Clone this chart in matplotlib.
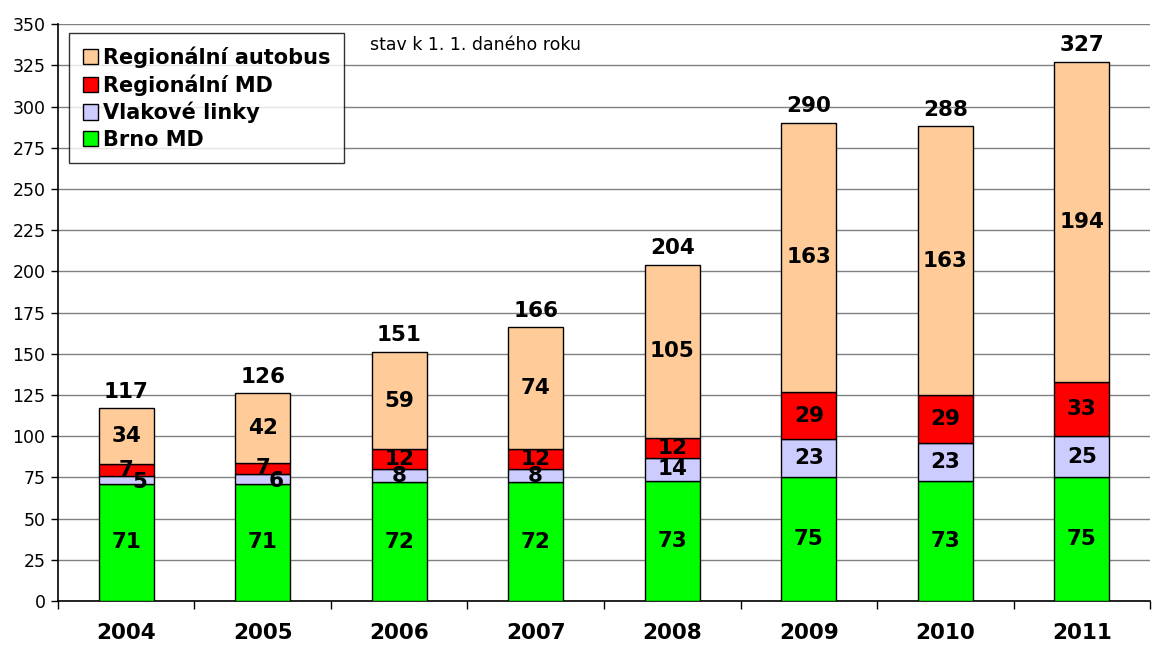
import matplotlib
matplotlib.use("Agg")
import matplotlib.pyplot as plt
import numpy as np

years = ["2004", "2005", "2006", "2007", "2008", "2009", "2010", "2011"]
brno_md = [71, 71, 72, 72, 73, 75, 73, 75]
vlakove = [5, 6, 8, 8, 14, 23, 23, 25]
regional_md = [7, 7, 12, 12, 12, 29, 29, 33]
regional_bus = [34, 42, 59, 74, 105, 163, 163, 194]
series_names = ["Brno MD", "Vlakové linky", "Regionální MD", "Regionální autobus"]
series_colors = ["#00FF00", "#CCCCFF", "#FF0000", "#FFCC99"]

plt.rcParams['font.family'] = ['DejaVu Sans']

fig = plt.figure(figsize=(11.52, 6.46), dpi=100)
ax = fig.add_axes([0.0503, 0.0697, 0.948, 0.893])

x = np.arange(len(years))
series = [brno_md, vlakove, regional_md, regional_bus]
bottom = np.zeros(len(years))
handles = []
for vals, name, col in zip(series, series_names, series_colors):
    vals = np.array(vals)
    b = ax.bar(x, vals, width=0.4, bottom=bottom, color=col, edgecolor="black",
               linewidth=1.0, label=name, zorder=3)
    handles.append(b)
    for xi, v, bt in zip(x, vals, bottom):
        dx = 0
        dy = 0
        if name == "Vlakové linky" and v < 7:
            dx, dy = 0.1, -1.5
        ax.text(xi + dx, bt + v / 2 + dy, str(v), ha="center", va="center",
                fontsize=15.5, fontweight="bold", color="black", zorder=5)
    bottom = bottom + vals

for xi, t in zip(x, bottom):
    ax.text(xi, t + 4, str(int(t)), ha="center", va="bottom",
            fontsize=15.5, fontweight="bold", color="black", zorder=5)

ax.set_xlim(-0.5, len(years) - 0.5)
ax.set_ylim(0, 350)
ax.set_yticks(np.arange(0, 351, 25))
ax.tick_params(axis="y", labelsize=12.5, direction="out", length=5, width=1, pad=4)
ax.set_xticks(x)
ax.set_xticklabels(years, fontsize=15.5, fontweight="bold")
ax.tick_params(axis="x", length=0, pad=16)
ax.set_xticks(np.arange(-0.5, len(years), 1.0), minor=True)
ax.tick_params(axis="x", which="minor", direction="out", length=6, width=1)

ax.yaxis.grid(True, color="#808080", linewidth=1.0, zorder=0)
ax.set_axisbelow(True)
for s in ["top", "right"]:
    ax.spines[s].set_visible(False)
ax.spines["left"].set_linewidth(1.2)
ax.spines["bottom"].set_linewidth(1.2)

leg = ax.legend(handles[::-1], series_names[::-1], loc="upper left",
                bbox_to_anchor=(0.0101, 0.985), prop={"weight": "bold", "size": 15},
                frameon=True, fancybox=False, shadow=False, borderpad=0.65,
                labelspacing=0.3, handlelength=0.75, handleheight=0.75,
                handletextpad=0.25, borderaxespad=0)
leg.get_frame().set_edgecolor("black")
leg.get_frame().set_linewidth(1.0)
leg.set_zorder(6)

fig.text(370 / 1152, 1 - 45 / 646, "stav k 1. 1. daného roku", fontsize=12.5,
         ha="left", va="center")

fig.savefig("out.png", dpi=100)
